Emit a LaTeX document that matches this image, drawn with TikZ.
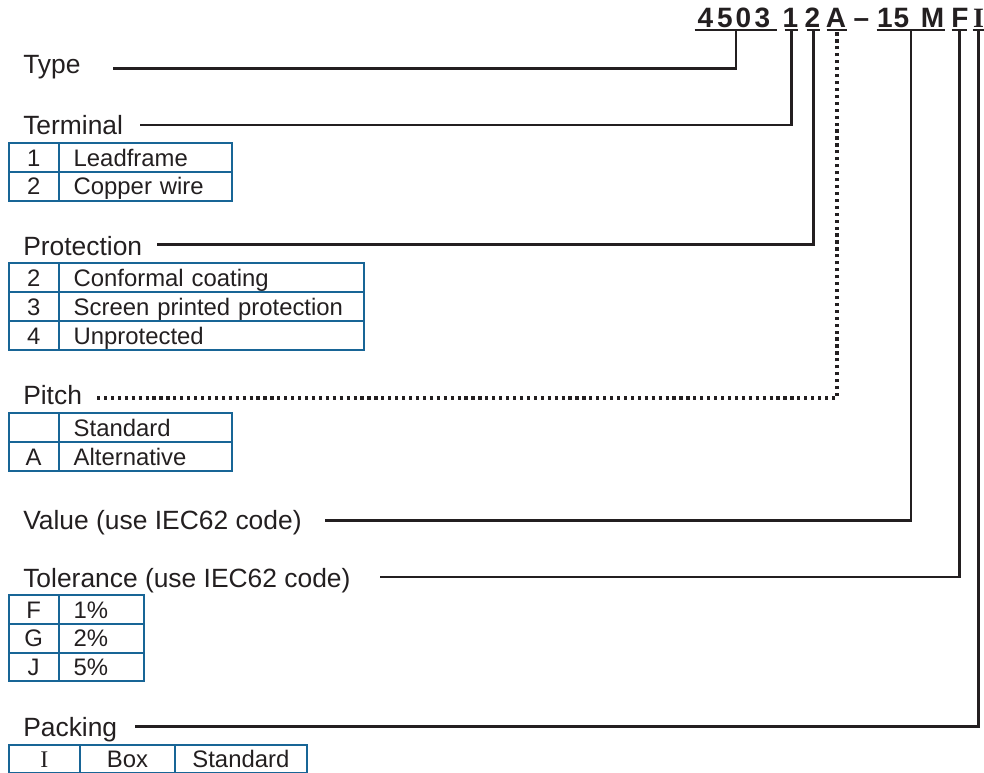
\documentclass[tikz,border=0pt]{standalone}
\usepackage{fontspec}
\setmainfont{Liberation Sans}
\newfontfamily\serifI{Liberation Serif}

\definecolor{ink}{RGB}{35,31,32}
\definecolor{tabblue}{RGB}{24,101,150}

\tikzset{
  lbl/.style={anchor=base west, inner sep=0pt, text=ink, font=\fontsize{19.8}{22}\selectfont},
  code/.style={anchor=base, inner sep=0pt, text=ink, font=\fontsize{21}{23}\selectfont\bfseries},
  uline/.style={inner sep=0pt, minimum height=0pt, minimum width=#1},
  lead/.style={draw=ink, line width=2.1pt},
  dotlead/.style={lead, line width=2.6pt, dash pattern=on 2.4pt off 2.8pt},
  cell/.style={draw=tabblue, line width=1.5pt, anchor=north west, inner ysep=0pt, text=ink,
    text height=12.8pt, text depth=0pt, minimum height=21.6pt, font=\fontsize{17.9}{20}\selectfont},
  keycell/.style={cell, inner xsep=0pt, minimum width=#1},
  keycell/.default=37.5pt,
  valcell/.style={cell, inner xsep=11.25pt, text width=#1, align=left},
}

\begin{document}
\begin{tikzpicture}[x=0.75pt, y=-0.75pt]
  \useasboundingbox (0,0) rectangle (984,773);

  % part number
  \foreach \x/\c [count=\i] in {705.5/4, 725/5, 743.5/0, 762.5/3, 790.5/1, 812.5/2, 836/A,
      861.5/\textendash, 885/1, 901.5/5, 932.5/M, 960/F}
    \node[code] (h\i) at (\x,28) {\c};
  \node[code, font=\fontsize{21}{23}\selectfont\serifI\bfseries] (h13) at (978.5,28) {I};

  \foreach \n/\x/\w in {uType/736/61.5, uTerm/791.5/9.75, uProt/813.5/9.75, uPitch/837/15,
      uValue/911/51, uTol/959.5/11.25, uPack/978.5/8.25} {
    \node[uline=\w pt] (\n) at (\x,30.5) {};
    \draw[ink, line width=1.5pt] (\n.west) -- (\n.east);
  }

  % labels
  \node[lbl] (lType) at (23,73.3) {Type};
  \node[lbl] (lTerm) at (23,135) {Terminal};
  \node[lbl] (lProt) at (23,255.3) {Protection};
  \node[lbl] (lPitch) at (23,404) {Pitch};
  \node[lbl] (lValue) at (23,529.7) {Value (use IEC62 code)};
  \node[lbl] (lTol) at (23,587) {Tolerance (use IEC62 code)};
  \node[lbl] (lPack) at (23,736) {Packing};

  \coordinate (sType) at (113,68.3);
  \coordinate (sTerm) at (140,125);
  \coordinate (sProt) at (157,244.7);
  \coordinate (sPitch) at (97,398);
  \coordinate (sValue) at (325,520.7);
  \coordinate (sTol) at (380,577);
  \coordinate (sPack) at (135,726.7);

  \draw[lead] (sType) -| (uType.south);
  \draw[lead] (sTerm) -| (uTerm.south);
  \draw[lead] (sProt) -| (uProt.south);
  \draw[dotlead] (sPitch) -| (uPitch.south);
  \draw[lead] (sValue) -| (uValue.south);
  \draw[lead] (sTol) -| (uTol.south);
  \draw[lead] (sPack) -| (uPack.south);

  % tables
  \foreach \k/\v [count=\i from 0] in {1/Leadframe, 2/Copper wire} {
    \node[keycell] (termK\i) at (7.7,{142.3+28.5*\i}) {\k};
    \node[valcell=107.5pt] (termV\i) at (57.7,{142.3+28.5*\i}) {\v};
  }
  \foreach \k/\v [count=\i from 0] in {2/Conformal coating, 3/Screen printed protection, 4/Unprotected} {
    \node[keycell] (protK\i) at (7.7,{262.3+29*\i}) {\k};
    \node[valcell=206.25pt] (protV\i) at (57.7,{262.3+29*\i}) {\v};
  }
  \foreach \k/\v [count=\i from 0] in {{}/Standard, A/Alternative} {
    \node[keycell] (pitchK\i) at (7.7,{412.3+29*\i}) {\k};
    \node[valcell=107.5pt] (pitchV\i) at (57.7,{412.3+29*\i}) {\v};
  }
  \foreach \k/\v [count=\i from 0] in {F/1\%, G/2\%, J/5\%} {
    \node[keycell] (tolK\i) at (7.7,{594.3+28.6*\i}) {\k};
    \node[valcell=41.7pt] (tolV\i) at (57.7,{594.3+28.6*\i}) {\v};
  }
  \node[keycell=53.5pt, minimum height=20.8pt] (packK) at (7.7,744) {\serifI I};
  \node[keycell=71.25pt, minimum height=20.8pt] (packBox) at (79,744) {Box};
  \node[keycell=98.8pt, minimum height=20.8pt] (packStd) at (174,744) {Standard};
\end{tikzpicture}
\end{document}
